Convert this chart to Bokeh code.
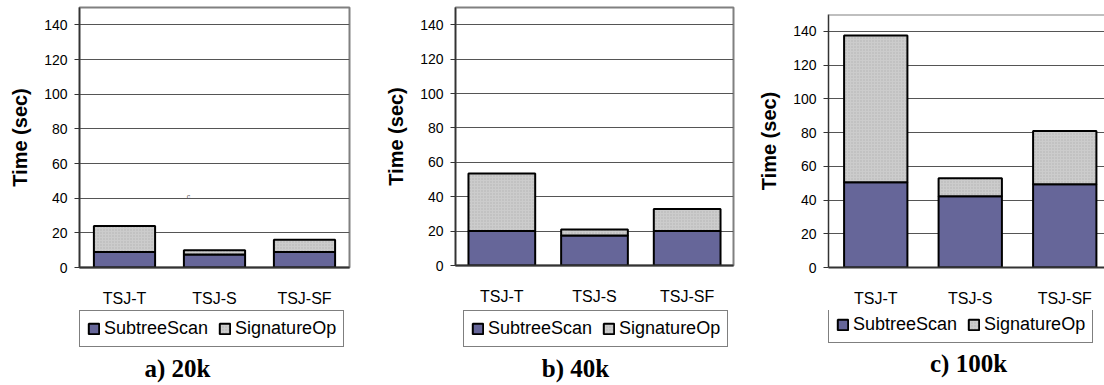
from bokeh.plotting import figure
from bokeh.layouts import row, column
from bokeh.models import Range1d, FixedTicker, Legend, LegendItem, Label, Span, ColumnDataSource
from bokeh.embed import file_html
from bokeh.resources import INLINE

categories = ["TSJ-T", "TSJ-S", "TSJ-SF"]
subtree_20k = [9.0, 7.5, 9.0]
signature_20k = [15.0, 2.5, 7.0]
subtree_40k = [20.0, 17.5, 20.0]
signature_40k = [33.5, 3.5, 12.8]
subtree_100k = [50.5, 42.3, 49.4]
signature_100k = [87.0, 10.6, 31.6]
y_ticks = [0, 20, 40, 60, 80, 100, 120, 140]
series_names = ["SubtreeScan", "SignatureOp"]
panel_titles = ["a) 20k", "b) 40k", "c) 100k"]

SUB_COLOR = "#666699"
SIG_COLOR = "#cccccc"
FONT = "Liberation Sans"
SERIF = "Liberation Serif"

SUB_STYLE = dict(fill_color=SUB_COLOR, line_color="black", line_width=2)
SIG_STYLE = dict(fill_color=SIG_COLOR, line_color="black", line_width=2,
                 hatch_pattern="dot", hatch_color="#b4b4b4", hatch_scale=3,
                 hatch_weight=1)

MAIN_H = 310
LEG_H = 385 - MAIN_H


def main_panel(sub, sig, width, bl, br, bt, bb, x_end, bar_w, outline=True, stray=None):
    xs = [i + 1 for i in range(len(categories))]
    totals = [a + b for a, b in zip(sub, sig)]
    src = ColumnDataSource(dict(x=xs, sub=sub, tot=totals))
    p = figure(width=width, height=MAIN_H, x_range=Range1d(0.5, x_end),
               y_range=Range1d(0, 150), output_backend="svg", toolbar_location=None,
               min_border_left=bl, min_border_right=br, min_border_top=bt,
               min_border_bottom=bb)
    p.background_fill_color = "white"
    p.border_fill_color = "white"
    p.vbar(x="x", bottom=0, top="sub", width=bar_w, source=src, **SUB_STYLE)
    p.vbar(x="x", bottom="sub", top="tot", width=bar_w, source=src, **SIG_STYLE)

    p.xaxis.ticker = FixedTicker(ticks=xs)
    p.xaxis.major_label_overrides = {x: c for x, c in zip(xs, categories)}
    p.xaxis.major_tick_line_color = None
    p.xaxis.minor_tick_line_color = None
    p.xaxis.major_label_standoff = 16
    p.xaxis.major_label_text_font = FONT
    p.xaxis.major_label_text_font_size = "16px"
    p.xaxis.major_label_text_color = "black"
    p.xaxis.axis_line_color = "#333333"
    p.xaxis.axis_line_width = 2

    p.yaxis.ticker = FixedTicker(ticks=y_ticks)
    p.yaxis.minor_tick_line_color = None
    p.yaxis.major_tick_out = 5
    p.yaxis.major_tick_in = 0
    p.yaxis.major_tick_line_color = "#333333"
    p.yaxis.major_label_standoff = 7
    p.yaxis.major_label_text_font = FONT
    p.yaxis.major_label_text_font_size = "14px"
    p.yaxis.major_label_text_color = "black"
    p.yaxis.axis_line_color = "#333333"
    p.yaxis.axis_line_width = 1.5
    p.yaxis.axis_label = "Time (sec)"
    p.yaxis.axis_label_text_font = FONT
    p.yaxis.axis_label_text_font_style = "bold"
    p.yaxis.axis_label_text_font_size = "20px"
    p.yaxis.axis_label_text_color = "black"
    p.yaxis.axis_label_standoff = 10

    p.xgrid.grid_line_color = None
    p.ygrid.ticker = FixedTicker(ticks=y_ticks)
    p.ygrid.grid_line_color = "#555555"
    p.ygrid.grid_line_width = 1

    if outline:
        p.outline_line_color = "#808080"
        p.outline_line_width = 2
    else:
        p.outline_line_color = None
        p.add_layout(Span(location=150, dimension="width", line_color="#808080",
                          line_width=2))
    if stray is not None:
        p.add_layout(Label(x=stray[0], y=stray[1], x_units="screen", y_units="screen",
                           text="c", text_font=FONT, text_font_size="7px",
                           text_color="#555555", text_align="center",
                           text_baseline="middle"))
    return p, src


def legend_panel(width, src, title, legend_xy, title_xy):
    # legend-only strip: proxy renderers are hidden, so no bar shows here
    q = figure(width=width, height=LEG_H, x_range=Range1d(1000, 1001),
               y_range=Range1d(1000, 1001),
               x_axis_type=None, y_axis_type=None, output_backend="svg",
               toolbar_location=None, min_border=0)
    q.outline_line_color = None
    q.background_fill_color = "white"
    q.border_fill_color = "white"
    q.grid.grid_line_color = None
    r1 = q.vbar(x="x", bottom=0, top="sub", width=0.5, source=src, **SUB_STYLE)
    r2 = q.vbar(x="x", bottom="sub", top="tot", width=0.5, source=src, **SIG_STYLE)
    r1.visible = False
    r2.visible = False
    legend = Legend(items=[LegendItem(label=series_names[0], renderers=[r1]),
                           LegendItem(label=series_names[1], renderers=[r2])],
                    orientation="horizontal", location=legend_xy,
                    border_line_color="black", border_line_width=1,
                    background_fill_color="white", background_fill_alpha=1,
                    inactive_fill_alpha=0,
                    padding=7, spacing=10, margin=0,
                    glyph_width=13, glyph_height=13, label_standoff=4,
                    label_text_font=FONT, label_text_font_size="18px",
                    label_text_color="black", label_height=20)
    q.add_layout(legend)
    q.add_layout(Label(x=title_xy[0], y=title_xy[1], x_units="screen", y_units="screen",
                       text=title, text_font=SERIF, text_font_style="bold",
                       text_font_size="25px", text_align="center",
                       text_baseline="middle", text_color="black"))
    return q


pa, sa = main_panel(subtree_20k, signature_20k, 375, 79, 26, 7, MAIN_H - 267,
                    3.5, 0.68, stray=(109, 71))
pb, sb = main_panel(subtree_40k, signature_40k, 370, 80, 12, 7, MAIN_H - 265,
                    3.5, 0.72)
pc, sc = main_panel(subtree_100k, signature_100k, 359, 83, 0, 14, MAIN_H - 267,
                    0.5 + 276 / 94.5, 0.67, outline=False)

# positions relative to the (aligned) frame of each strip
la = legend_panel(375, sa, panel_titles[0], (0, 38), (98, 17))
lb = legend_panel(370, sb, panel_titles[1], (8, 38), (120, 17))
lc = legend_panel(359, sc, panel_titles[2], (0, 42), (140, 22))

layout = row(column(pa, la), column(pb, lb), column(pc, lc))
open("out.html", "w").write(file_html(layout, INLINE))
